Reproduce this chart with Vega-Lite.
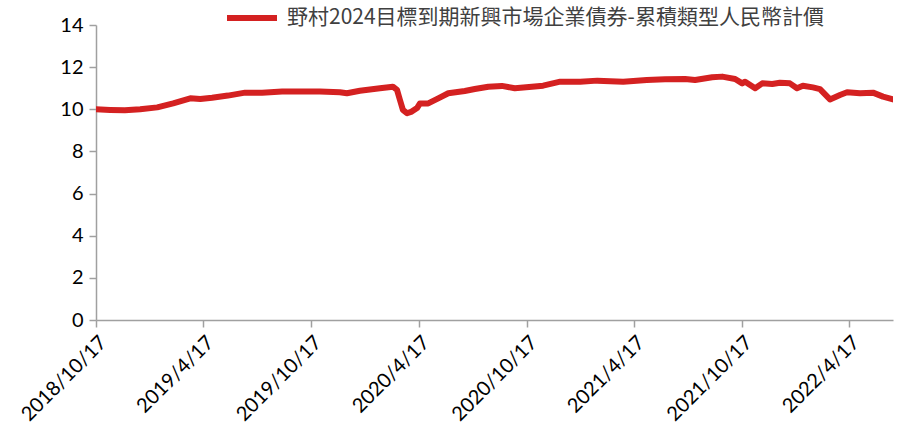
{
  "$schema": "https://vega.github.io/schema/vega-lite/v6.json",
  "width": 797,
  "height": 295,
  "autosize": "none",
  "padding": {"left": 96, "top": 25, "right": 6, "bottom": 121},
  "background": "white",
  "config": {
    "view": {"stroke": null},
    "axis": {"labelFont": "Lato", "labelFontSize": 20, "labelColor": "#000000", "domainColor": "#a0a0a0", "tickColor": "#a0a0a0", "domainWidth": 1.5, "tickWidth": 1.5, "tickSize": 7, "grid": false, "title": null}
  },
  "data": {
    "values": [
      {"date": "2018/10/17", "value": 10.0},
      {"date": "2018/11/10", "value": 9.97},
      {"date": "2018/12/05", "value": 9.95},
      {"date": "2018/12/31", "value": 10.0},
      {"date": "2019/01/29", "value": 10.09},
      {"date": "2019/02/25", "value": 10.28},
      {"date": "2019/03/26", "value": 10.52},
      {"date": "2019/04/12", "value": 10.49},
      {"date": "2019/05/02", "value": 10.55},
      {"date": "2019/05/29", "value": 10.65},
      {"date": "2019/06/27", "value": 10.79},
      {"date": "2019/07/26", "value": 10.79},
      {"date": "2019/08/29", "value": 10.84},
      {"date": "2019/10/07", "value": 10.84},
      {"date": "2019/11/01", "value": 10.84},
      {"date": "2019/12/05", "value": 10.81},
      {"date": "2019/12/17", "value": 10.76},
      {"date": "2020/01/08", "value": 10.88},
      {"date": "2020/02/11", "value": 11.0},
      {"date": "2020/03/04", "value": 11.07},
      {"date": "2020/03/11", "value": 10.92},
      {"date": "2020/03/16", "value": 10.44},
      {"date": "2020/03/21", "value": 9.97},
      {"date": "2020/03/28", "value": 9.81},
      {"date": "2020/04/05", "value": 9.89},
      {"date": "2020/04/14", "value": 10.06},
      {"date": "2020/04/19", "value": 10.28},
      {"date": "2020/05/03", "value": 10.28},
      {"date": "2020/05/20", "value": 10.52},
      {"date": "2020/06/06", "value": 10.76},
      {"date": "2020/07/04", "value": 10.87},
      {"date": "2020/07/21", "value": 10.96},
      {"date": "2020/08/13", "value": 11.07},
      {"date": "2020/09/05", "value": 11.11},
      {"date": "2020/09/27", "value": 11.0},
      {"date": "2020/10/26", "value": 11.07},
      {"date": "2020/11/14", "value": 11.12},
      {"date": "2020/12/13", "value": 11.31},
      {"date": "2021/01/16", "value": 11.31},
      {"date": "2021/02/14", "value": 11.36},
      {"date": "2021/03/30", "value": 11.31},
      {"date": "2021/05/09", "value": 11.39},
      {"date": "2021/06/09", "value": 11.42},
      {"date": "2021/07/13", "value": 11.44},
      {"date": "2021/07/30", "value": 11.39},
      {"date": "2021/08/28", "value": 11.52},
      {"date": "2021/09/14", "value": 11.55},
      {"date": "2021/10/06", "value": 11.44},
      {"date": "2021/10/18", "value": 11.23},
      {"date": "2021/10/23", "value": 11.31},
      {"date": "2021/11/09", "value": 11.0},
      {"date": "2021/11/21", "value": 11.23},
      {"date": "2021/12/08", "value": 11.2},
      {"date": "2021/12/21", "value": 11.26},
      {"date": "2022/01/07", "value": 11.23},
      {"date": "2022/01/19", "value": 11.0},
      {"date": "2022/01/29", "value": 11.12},
      {"date": "2022/02/15", "value": 11.04},
      {"date": "2022/02/27", "value": 10.96},
      {"date": "2022/03/16", "value": 10.47},
      {"date": "2022/04/02", "value": 10.68},
      {"date": "2022/04/14", "value": 10.81},
      {"date": "2022/05/06", "value": 10.76},
      {"date": "2022/05/28", "value": 10.79},
      {"date": "2022/06/14", "value": 10.6},
      {"date": "2022/07/01", "value": 10.47}
    ]
  },
  "mark": {"type": "line", "strokeWidth": 6, "strokeCap": "round", "strokeJoin": "round", "clip": true},
  "encoding": {
    "x": {
      "field": "date",
      "type": "temporal",
      "scale": {"domain": [{"year": 2018, "month": 10, "date": 17}, {"year": 2022, "month": 7, "date": 1}]},
      "axis": {
        "values": [
          {"year": 2018, "month": 10, "date": 17},
          {"year": 2019, "month": 4, "date": 17},
          {"year": 2019, "month": 10, "date": 17},
          {"year": 2020, "month": 4, "date": 17},
          {"year": 2020, "month": 10, "date": 17},
          {"year": 2021, "month": 4, "date": 17},
          {"year": 2021, "month": 10, "date": 17},
          {"year": 2022, "month": 4, "date": 17}
        ],
        "format": "%Y/%-m/%-d",
        "labelAngle": -45,
        "labelPadding": 5,
        "labelOverlap": false,
        "labelBound": false,
        "labelFlush": false
      }
    },
    "y": {
      "field": "value",
      "type": "quantitative",
      "scale": {"domain": [0, 14]},
      "axis": {"values": [0, 2, 4, 6, 8, 10, 12, 14], "labelPadding": 6}
    },
    "color": {
      "datum": "野村2024目標到期新興市場企業債券-累積類型人民幣計價",
      "type": "nominal",
      "scale": {"range": ["#d42121"]},
      "legend": {
        "title": null,
        "orient": "none",
        "legendX": 128,
        "legendY": -35,
        "symbolType": "stroke",
        "symbolSize": 2500,
        "symbolStrokeWidth": 6,
        "labelFont": "Noto Sans CJK TC",
        "labelFontSize": 21,
        "labelColor": "#404040",
        "labelLimit": 0,
        "labelOffset": 7
      }
    }
  }
}
